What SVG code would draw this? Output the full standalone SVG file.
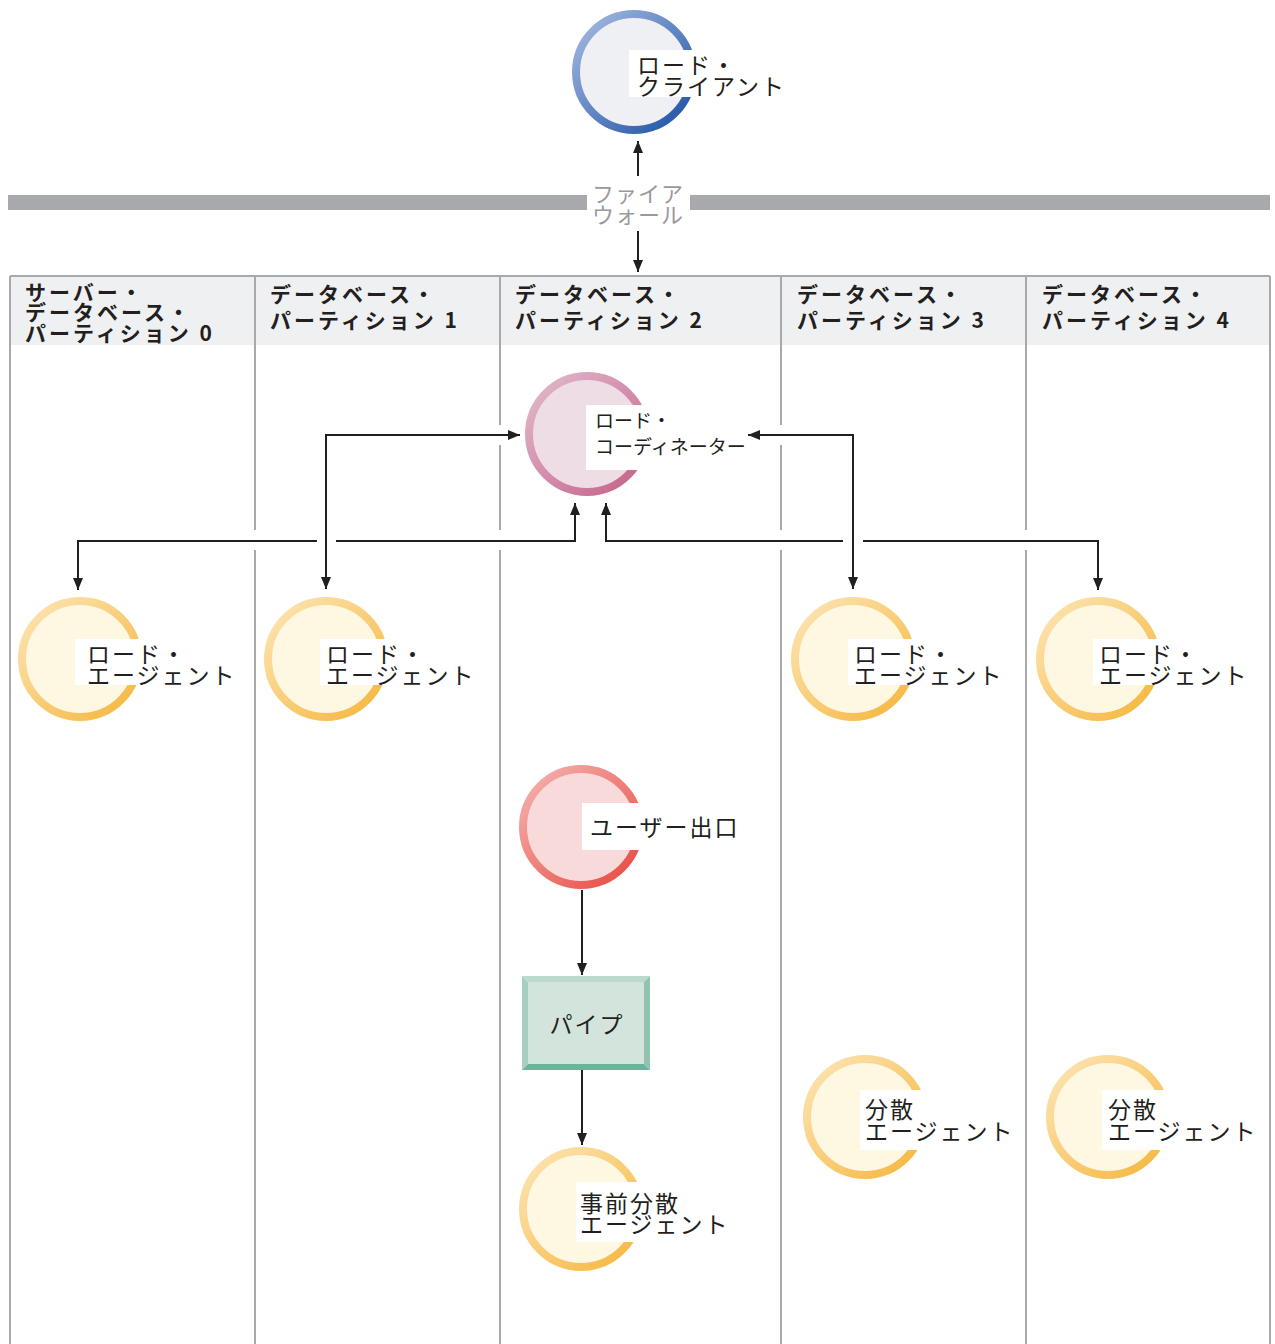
<svg xmlns="http://www.w3.org/2000/svg" width="1275" height="1344" viewBox="0 0 1275 1344">
<defs>
<style>
.t{font-family:"Noto Sans CJK JP","Noto Sans",sans-serif;font-size:23px;fill:#231F20;letter-spacing:2px}
.tc{font-family:"Noto Sans CJK JP","Noto Sans",sans-serif;font-size:19px;fill:#231F20}
.h{font-family:"Noto Sans CJK JP","Noto Sans",sans-serif;font-size:21px;font-weight:bold;fill:#231F20;letter-spacing:3px}
.fw{font-family:"Noto Sans CJK JP","Noto Sans",sans-serif;font-size:22px;fill:#9A9A9C;letter-spacing:1px}
.div{stroke:#A7A9AC;stroke-width:2;fill:none}
.con{stroke:#231F20;stroke-width:2;fill:none}
.lbl{fill:#FFFFFF}
</style>
<linearGradient id="gBlue" x1="0" y1="0" x2="1" y2="1"><stop offset="0" stop-color="#A8BCE2"/><stop offset="1" stop-color="#1A4FA3"/></linearGradient>
<linearGradient id="gPink" x1="0" y1="0" x2="1" y2="1"><stop offset="0" stop-color="#E2BCCD"/><stop offset="1" stop-color="#C45F88"/></linearGradient>
<linearGradient id="gYel" x1="0" y1="0" x2="1" y2="1"><stop offset="0" stop-color="#FDE6B8"/><stop offset="1" stop-color="#F5B53A"/></linearGradient>
<linearGradient id="gRed" x1="0" y1="0" x2="1" y2="1"><stop offset="0" stop-color="#F5B5B2"/><stop offset="1" stop-color="#E8473E"/></linearGradient>
<marker id="arr" viewBox="0 0 12 10" refX="12" refY="5" markerWidth="12" markerHeight="10" markerUnits="userSpaceOnUse" orient="auto-start-reverse">
<path d="M0,0 L12,5 L0,10 Z" fill="#231F20"/>
</marker>
</defs>
<rect width="1275" height="1344" fill="#FFFFFF"/>

<!-- firewall -->
<g id="firewall">
<rect x="8" y="195" width="579" height="15" fill="#A7A9AC"/>
<rect x="690" y="195" width="580" height="15" fill="#A7A9AC"/>
<text class="fw" x="592" y="202">ファイア</text>
<text class="fw" x="592" y="223">ウォール</text>
</g>

<!-- partitions frame -->
<g id="partitions">
<rect x="11" y="277" width="1258" height="68" fill="#EFF0F2"/>
<line class="div" x1="10" y1="276" x2="1270" y2="276"/>
<line class="div" x1="10" y1="276" x2="10" y2="1344"/>
<line class="div" x1="1270" y1="276" x2="1270" y2="1344"/>
<path class="div" d="M255,276 V530 M255,550 V1344"/>
<path class="div" d="M500,276 V425 M500,445 V530 M500,550 V1344"/>
<path class="div" d="M781,276 V425 M781,445 V530 M781,550 V1344"/>
<path class="div" d="M1026,276 V530 M1026,550 V1344"/>
<text class="h" x="25" y="300">サーバー・</text>
<text class="h" x="25" y="320">データベース・</text>
<text class="h" x="25" y="341">パーティション 0</text>
<text class="h" x="270" y="302">データベース・</text>
<text class="h" x="270" y="328">パーティション 1</text>
<text class="h" x="515" y="302">データベース・</text>
<text class="h" x="515" y="328">パーティション 2</text>
<text class="h" x="797" y="302">データベース・</text>
<text class="h" x="797" y="328">パーティション 3</text>
<text class="h" x="1042" y="302">データベース・</text>
<text class="h" x="1042" y="328">パーティション 4</text>
</g>

<!-- connectors -->
<g id="connectors">
<line class="con" x1="638" y1="176" x2="638" y2="141" marker-end="url(#arr)"/>
<line class="con" x1="638" y1="231" x2="638" y2="272" marker-end="url(#arr)"/>
<path class="con" d="M326,589 V435 H520" marker-start="url(#arr)" marker-end="url(#arr)"/>
<path class="con" d="M78,590 V541 H317 M336,541 H575 V503" marker-start="url(#arr)" marker-end="url(#arr)"/>
<path class="con" d="M606,503 V541 H843 M863,541 H1098 V590" marker-start="url(#arr)" marker-end="url(#arr)"/>
<path class="con" d="M748,435 H853 V589" marker-start="url(#arr)" marker-end="url(#arr)"/>
<line class="con" x1="582" y1="890" x2="582" y2="975" marker-end="url(#arr)"/>
<line class="con" x1="582" y1="1070" x2="582" y2="1145" marker-end="url(#arr)"/>
</g>

<!-- nodes -->
<g id="load-client">
<circle cx="634" cy="72" r="58" fill="#EEF0F3" stroke="url(#gBlue)" stroke-width="8"/>
<rect class="lbl" x="629" y="50" width="75" height="47"/>
<text class="t" x="637" y="74">ロード・</text>
<text class="t" x="637" y="95">クライアント</text>
</g>

<g id="load-coordinator">
<circle cx="587" cy="434" r="58" fill="#EEDDE4" stroke="url(#gPink)" stroke-width="8"/>
<rect class="lbl" x="586" y="405" width="66" height="65"/>
<text class="tc" x="595" y="428">ロード・</text>
<text class="tc" x="595" y="454">コーディネーター</text>
</g>

<g id="load-agent-0">
<circle cx="80" cy="659" r="58" fill="#FEF7E2" stroke="url(#gYel)" stroke-width="8"/>
<rect class="lbl" x="75" y="639" width="72" height="46"/>
<text class="t" x="87" y="663">ロード・</text>
<text class="t" x="87" y="684">エージェント</text>
</g>

<g id="load-agent-1">
<circle cx="326" cy="659" r="58" fill="#FEF7E2" stroke="url(#gYel)" stroke-width="8"/>
<rect class="lbl" x="320" y="639" width="72" height="46"/>
<text class="t" x="326" y="663">ロード・</text>
<text class="t" x="326" y="684">エージェント</text>
</g>

<g id="load-agent-3">
<circle cx="853" cy="659" r="58" fill="#FEF7E2" stroke="url(#gYel)" stroke-width="8"/>
<rect class="lbl" x="848" y="639" width="72" height="46"/>
<text class="t" x="854" y="663">ロード・</text>
<text class="t" x="854" y="684">エージェント</text>
</g>

<g id="load-agent-4">
<circle cx="1098" cy="659" r="58" fill="#FEF7E2" stroke="url(#gYel)" stroke-width="8"/>
<rect class="lbl" x="1093" y="639" width="72" height="46"/>
<text class="t" x="1099" y="663">ロード・</text>
<text class="t" x="1099" y="684">エージェント</text>
</g>

<g id="user-exit">
<circle cx="581" cy="827" r="58" fill="#F8DADB" stroke="url(#gRed)" stroke-width="8"/>
<rect class="lbl" x="582" y="803" width="66" height="47"/>
<text class="t" x="590" y="836">ユーザー出口</text>
</g>

<g id="pipe">
<polygon points="522,976 650,976 644,982 528,982" fill="#BBD9CC"/>
<polygon points="522,976 528,982 528,1064 522,1070" fill="#A5CFBF"/>
<polygon points="650,976 650,1070 644,1064 644,982" fill="#8FC4B0"/>
<polygon points="522,1070 528,1064 644,1064 650,1070" fill="#6CB39A"/>
<rect x="528" y="982" width="116" height="82" fill="#D3E4DC"/>
<text class="t" x="587" y="1033" text-anchor="middle">パイプ</text>
</g>

<g id="pre-distribution-agent">
<circle cx="581" cy="1209" r="58" fill="#FEF7E2" stroke="url(#gYel)" stroke-width="8"/>
<rect class="lbl" x="576" y="1182" width="70" height="60"/>
<text class="t" x="580" y="1212">事前分散</text>
<text class="t" x="580" y="1233">エージェント</text>
</g>

<g id="distribution-agent-3">
<circle cx="865" cy="1117" r="58" fill="#FEF7E2" stroke="url(#gYel)" stroke-width="8"/>
<rect class="lbl" x="860" y="1090" width="70" height="60"/>
<text class="t" x="865" y="1118">分散</text>
<text class="t" x="865" y="1140">エージェント</text>
</g>

<g id="distribution-agent-4">
<circle cx="1108" cy="1117" r="58" fill="#FEF7E2" stroke="url(#gYel)" stroke-width="8"/>
<rect class="lbl" x="1102" y="1090" width="70" height="60"/>
<text class="t" x="1108" y="1118">分散</text>
<text class="t" x="1108" y="1140">エージェント</text>
</g>
</svg>
